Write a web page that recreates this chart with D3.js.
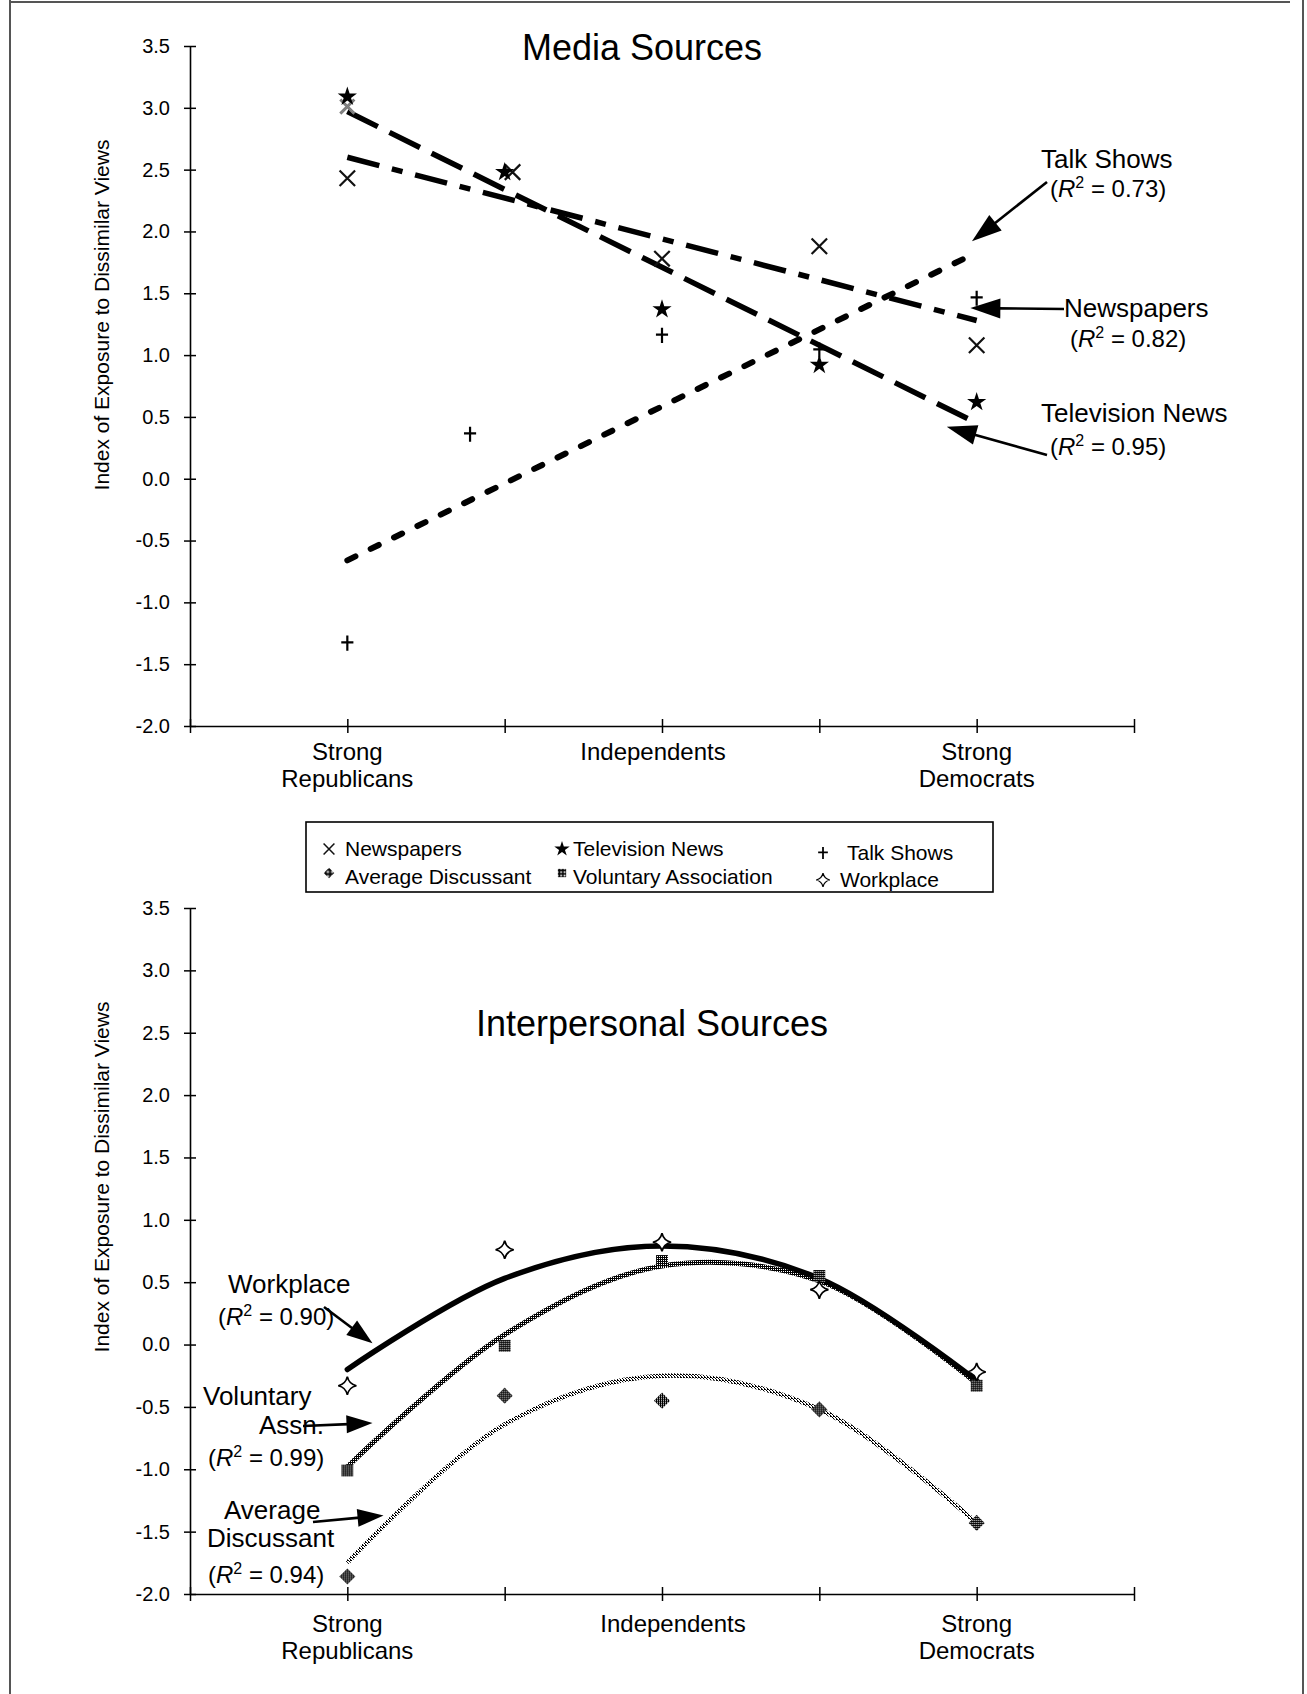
<!DOCTYPE html>
<html>
<head>
<meta charset="utf-8">
<script src="https://cdn.jsdelivr.net/npm/d3@7"></script>
<style>
  body { margin: 0; background: #fff; }
  svg { display: block; font-family: "Liberation Sans", Arial, Helvetica, sans-serif; }
</style>
</head>
<body>
<svg id="chart" width="1307" height="1694"></svg>
<script>
// party identification slots (1 = Strong Republicans ... 5 = Strong Democrats)
const categoryPos = [1, 2, 3, 4, 5];
const categoryLabels = [
  { pos: 1, lines: ["Strong", "Republicans"] },
  { pos: 3, lines: ["Independents"] },
  { pos: 5, lines: ["Strong", "Democrats"] }
];
const yTicks = [-2.0, -1.5, -1.0, -0.5, 0.0, 0.5, 1.0, 1.5, 2.0, 2.5, 3.0, 3.5];
const xTicks = [0, 1, 2, 3, 4, 5, 6];

// Media sources
const newspapersX = [1, 2.05, 3, 4, 5];
const newspapers = [2.43, 2.48, 1.78, 1.88, 1.08];
const newspapersOverlapX = [1];
const newspapersOverlap = [3.01];
const tvNews = [3.09, 2.48, 1.37, 0.92, 0.62];
const talkShowsX = [1, 1.78, 3, 4, 5];
const talkShows = [-1.33, 0.36, 1.16, 1.04, 1.46];
const trendX = [1, 5];
const newspapersTrend = [2.60, 1.28];
const tvTrend = [2.97, 0.45];
const talkTrend = [-0.66, 1.83];
const mediaR2 = { talk: 0.73, news: 0.82, tv: 0.95 };

// Interpersonal sources
const workplace = [-0.33, 0.76, 0.82, 0.44, -0.22];
const voluntary = [-1.01, -0.01, 0.67, 0.55, -0.33];
const avgDiscussant = [-1.86, -0.41, -0.45, -0.52, -1.43];
const workplaceFit = [-0.20, 0.53, 0.79, 0.53, -0.29];
const voluntaryFit = [-0.98, 0.08, 0.63, 0.51, -0.31];
const avgDiscussantFit = [-1.75, -0.64, -0.25, -0.52, -1.43];
const interR2 = { work: 0.90, vol: 0.99, avg: 0.94 };

const svg = d3.select("#chart");
const defs = svg.append("defs");

// dither patterns standing in for the scanned grey tones
const pDark = defs.append("pattern").attr("id", "dDark")
  .attr("width", 2).attr("height", 2).attr("patternUnits", "userSpaceOnUse");
pDark.append("rect").attr("width", 2).attr("height", 2).attr("fill", "#000");
pDark.append("rect").attr("x", 1).attr("y", 1).attr("width", 1).attr("height", 1).attr("fill", "#fff");

const pMid = defs.append("pattern").attr("id", "dMid")
  .attr("width", 2).attr("height", 2).attr("patternUnits", "userSpaceOnUse");
pMid.append("rect").attr("width", 2).attr("height", 2).attr("fill", "#fff");
pMid.append("rect").attr("width", 1).attr("height", 1).attr("fill", "#000");
pMid.append("rect").attr("x", 1).attr("y", 1).attr("width", 1).attr("height", 1).attr("fill", "#000");

const pLight = defs.append("pattern").attr("id", "dLight")
  .attr("width", 3).attr("height", 3).attr("patternUnits", "userSpaceOnUse");
pLight.append("rect").attr("width", 3).attr("height", 3).attr("fill", "#fff");
[[0, 0], [1, 1], [2, 2], [2, 0]].forEach(p => {
  pLight.append("rect").attr("x", p[0]).attr("y", p[1]).attr("width", 1).attr("height", 1).attr("fill", "#000");
});

// page frame
const frame = svg.append("g").attr("stroke", "#555").attr("stroke-width", 2);
frame.append("line").attr("x1", 10).attr("x2", 10).attr("y1", 0).attr("y2", 1694);
frame.append("line").attr("x1", 10).attr("x2", 1290).attr("y1", 2).attr("y2", 2);
frame.append("line").attr("x1", 1303).attr("x2", 1303).attr("y1", 0).attr("y2", 1694);

// custom marker shapes
const symX = { draw(ctx, size) { const r = Math.sqrt(size) / 2;
  ctx.moveTo(-r, -r); ctx.lineTo(r, r); ctx.moveTo(r, -r); ctx.lineTo(-r, r); } };
const symPlus = { draw(ctx, size) { const r = Math.sqrt(size) / 2;
  ctx.moveTo(-r * 0.8, -r * 0.1); ctx.lineTo(r * 0.8, -r * 0.1); ctx.moveTo(0, -r); ctx.lineTo(0, r); } };
const symStar4 = { draw(ctx, size) { const r = Math.sqrt(size) / 2, k = r * 0.18;
  ctx.moveTo(0, -r);
  ctx.quadraticCurveTo(k, -k, r, 0);
  ctx.quadraticCurveTo(k, k, 0, r);
  ctx.quadraticCurveTo(-k, k, -r, 0);
  ctx.quadraticCurveTo(-k, -k, 0, -r);
  ctx.closePath(); } };
const symRhomb = { draw(ctx, size) { const r = Math.sqrt(size) / 2;
  ctx.moveTo(0, -r); ctx.lineTo(r, 0); ctx.lineTo(0, r); ctx.lineTo(-r, 0); ctx.closePath(); } };

const markers = {
  news: g => g.append("path").attr("d", d3.symbol(symX, 240)()).attr("fill", "none").attr("stroke", "#111").attr("stroke-width", 2.2),
  newsGrey: g => g.append("path").attr("d", d3.symbol(symX, 200)()).attr("fill", "none").attr("stroke", "url(#dMid)").attr("stroke-width", 3),
  tv: g => g.append("path").attr("d", d3.symbol(d3.symbolStar, 115)()).attr("fill", "#000"),
  talk: g => g.append("path").attr("d", d3.symbol(symPlus, 230)()).attr("fill", "none").attr("stroke", "#000").attr("stroke-width", 2.2),
  work: g => g.append("path").attr("d", d3.symbol(symStar4, 330)()).attr("fill", "#fff").attr("stroke", "#000").attr("stroke-width", 1.7),
  vol: g => g.append("path").attr("d", d3.symbol(d3.symbolSquare, 140)()).attr("fill", "url(#dDark)"),
  avg: g => g.append("path").attr("d", d3.symbol(symRhomb, 260)()).attr("fill", "url(#dDark)")
};

const x = d3.scaleLinear().domain([0, 6]).range([190, 1134]);

function drawAxes(y, labelBase, indDx, labelCenterY) {
  const yAxis = d3.axisLeft(y).tickValues(yTicks).tickFormat(d => d.toFixed(1))
    .tickSizeInner(6).tickSizeOuter(0).tickPadding(14);
  const ga = svg.append("g").attr("transform", `translate(${x(0)},0)`).call(yAxis);
  ga.selectAll(".tick line").attr("x1", 6).attr("stroke-width", 1.5);
  ga.select(".domain").attr("stroke-width", 1.6);
  ga.selectAll("text").attr("font-size", 20).attr("font-family", null).attr("fill", "#000");

  const xAxis = d3.axisBottom(x).tickValues(xTicks).tickFormat(() => "")
    .tickSizeInner(7).tickSizeOuter(0);
  const gx = svg.append("g").attr("transform", `translate(0,${y(-2)})`).call(xAxis);
  gx.selectAll(".tick line").attr("y1", -7).attr("stroke-width", 1.5);
  gx.select(".domain").attr("stroke-width", 1.6);

  categoryLabels.forEach(c => {
    const t = svg.append("text").attr("text-anchor", "middle").attr("font-size", 24);
    c.lines.forEach((ln, i) => {
      t.append("tspan")
        .attr("x", x(c.pos) + (c.lines.length === 1 ? indDx : 0))
        .attr("y", labelBase + i * 27)
        .text(ln);
    });
  });

  svg.append("text")
    .attr("transform", `translate(109,${labelCenterY}) rotate(-90)`)
    .attr("text-anchor", "middle").attr("font-size", 21)
    .text("Index of Exposure to Dissimilar Views");
}

function r2Text(x0, yb, val) {
  const t = svg.append("text").attr("x", x0).attr("y", yb).attr("font-size", 24);
  t.append("tspan").text("(");
  t.append("tspan").attr("font-style", "italic").text("R");
  t.append("tspan").attr("font-size", 16).attr("dy", -9).text("2");
  t.append("tspan").attr("dy", 9).text(` = ${val.toFixed(2)})`);
}

function arrow(x1, y1, x2, y2, len, hw) {
  const dx = x2 - x1, dy = y2 - y1, L = Math.hypot(dx, dy);
  const ux = dx / L, uy = dy / L;
  const bx = x2 - ux * len, by = y2 - uy * len;
  svg.append("line").attr("x1", x1).attr("y1", y1).attr("x2", bx + ux * 2).attr("y2", by + uy * 2)
    .attr("stroke", "#000").attr("stroke-width", 2.6);
  svg.append("path")
    .attr("d", `M${x2},${y2}L${bx - uy * hw},${by + ux * hw}L${bx + uy * hw},${by - ux * hw}Z`)
    .attr("fill", "#000");
}

function plotMarks(y, xs, ys, kind) {
  xs.forEach((xv, i) => {
    const g = svg.append("g").attr("transform", `translate(${x(xv)},${y(ys[i])})`);
    markers[kind](g);
  });
}

// ---------- Media Sources ----------
const yTop = d3.scaleLinear().domain([-2, 3.5]).range([726, 46]);
drawAxes(yTop, 760, -9, 315);

svg.append("text").attr("x", 642).attr("y", 60).attr("text-anchor", "middle")
  .attr("font-size", 36).text("Media Sources");

const lineTop = d3.line().x(d => x(d[0])).y(d => yTop(d[1]));
svg.append("path").attr("d", lineTop(d3.zip(trendX, tvTrend)))
  .attr("fill", "none").attr("stroke", "#000").attr("stroke-width", 5.5)
  .attr("stroke-dasharray", "34 13");
svg.append("path").attr("d", lineTop(d3.zip(trendX, newspapersTrend)))
  .attr("fill", "none").attr("stroke", "#000").attr("stroke-width", 5.5)
  .attr("stroke-dasharray", "33 13 11 13");
svg.append("path").attr("d", lineTop(d3.zip(trendX, talkTrend)))
  .attr("fill", "none").attr("stroke", "#000").attr("stroke-width", 6)
  .attr("stroke-linecap", "round").attr("stroke-dasharray", "9 17");

plotMarks(yTop, newspapersOverlapX, newspapersOverlap, "newsGrey");
plotMarks(yTop, newspapersX, newspapers, "news");
plotMarks(yTop, categoryPos, tvNews, "tv");
plotMarks(yTop, talkShowsX, talkShows, "talk");

// annotations
svg.append("text").attr("x", 1041).attr("y", 168).attr("font-size", 26).text("Talk Shows");
r2Text(1050, 197, mediaR2.talk);
arrow(1047, 182, x(4.97), yTop(1.92), 30, 10);

svg.append("text").attr("x", 1064).attr("y", 317).attr("font-size", 26).text("Newspapers");
r2Text(1070, 347, mediaR2.news);
arrow(1064, 309, x(4.96), yTop(1.38), 30, 10);

svg.append("text").attr("x", 1041).attr("y", 422).attr("font-size", 26).text("Television News");
r2Text(1050, 455, mediaR2.tv);
arrow(1047, 455, x(4.81), yTop(0.42), 30, 10);

// ---------- Legend ----------
svg.append("rect").attr("x", 306).attr("y", 822).attr("width", 687).attr("height", 70)
  .attr("fill", "#fff").attr("stroke", "#000").attr("stroke-width", 1.6);
const legendItems = [
  { name: "Newspapers", kind: "news", col: 0, row: 0 },
  { name: "Television News", kind: "tv", col: 1, row: 0 },
  { name: "Talk Shows", kind: "talk", col: 2, row: 0 },
  { name: "Average Discussant", kind: "avg", col: 0, row: 1 },
  { name: "Voluntary Association", kind: "vol", col: 1, row: 1 },
  { name: "Workplace", kind: "work", col: 2, row: 1 }
];
const legendSymX = [329, 562, 823];
const legendTxtX = [[345, 345], [573, 573], [847, 840]];
const legendBase = [[856, 884], [856, 884], [860, 887]];
const legendScale = { news: 0.7, tv: 0.8, talk: 0.8, avg: 0.65, vol: 0.7, work: 0.75 };
legendItems.forEach(it => {
  const yb = legendBase[it.col][it.row];
  const lift = (it.kind === "avg" || it.kind === "vol") ? 4 : 0;
  const g = svg.append("g")
    .attr("transform", `translate(${legendSymX[it.col]},${yb - 7 - lift}) scale(${legendScale[it.kind]})`);
  markers[it.kind](g);
  svg.append("text").attr("x", legendTxtX[it.col][it.row]).attr("y", yb)
    .attr("font-size", 21).text(it.name);
});

// ---------- Interpersonal Sources ----------
const yBot = d3.scaleLinear().domain([-2, 3.5]).range([1594, 908]);
drawAxes(yBot, 1632, 11, 1177);

svg.append("text").attr("x", 652).attr("y", 1036).attr("text-anchor", "middle")
  .attr("font-size", 36).text("Interpersonal Sources");

const curveBot = d3.line().x(d => x(d[0])).y(d => yBot(d[1])).curve(d3.curveCatmullRom);
svg.append("path").attr("d", curveBot(d3.zip(categoryPos, avgDiscussantFit)))
  .attr("fill", "none").attr("stroke", "url(#dLight)").attr("stroke-width", 4.5);
svg.append("path").attr("d", curveBot(d3.zip(categoryPos, voluntaryFit)))
  .attr("fill", "none").attr("stroke", "url(#dDark)").attr("stroke-width", 5);
svg.append("path").attr("d", curveBot(d3.zip(categoryPos, workplaceFit)))
  .attr("fill", "none").attr("stroke", "#000").attr("stroke-width", 5.5)
  .attr("stroke-linecap", "round");

plotMarks(yBot, categoryPos, avgDiscussant, "avg");
plotMarks(yBot, categoryPos, voluntary, "vol");
plotMarks(yBot, categoryPos, workplace, "work");

// annotations
svg.append("text").attr("x", 228).attr("y", 1293).attr("font-size", 26).text("Workplace");
r2Text(218, 1325, interR2.work);
arrow(324, 1307, x(1.16), yBot(0.01), 26, 9);

svg.append("text").attr("x", 203).attr("y", 1405).attr("font-size", 26).text("Voluntary");
svg.append("text").attr("x", 259).attr("y", 1434).attr("font-size", 26).text("Assn.");
r2Text(208, 1466, interR2.vol);
arrow(303, 1426, x(1.16), yBot(-0.63), 26, 9);

svg.append("text").attr("x", 224).attr("y", 1519).attr("font-size", 26).text("Average");
svg.append("text").attr("x", 207).attr("y", 1547).attr("font-size", 26).text("Discussant");
r2Text(208, 1583, interR2.avg);
arrow(313, 1522, x(1.23), yBot(-1.37), 26, 9);
</script>
</body>
</html>
